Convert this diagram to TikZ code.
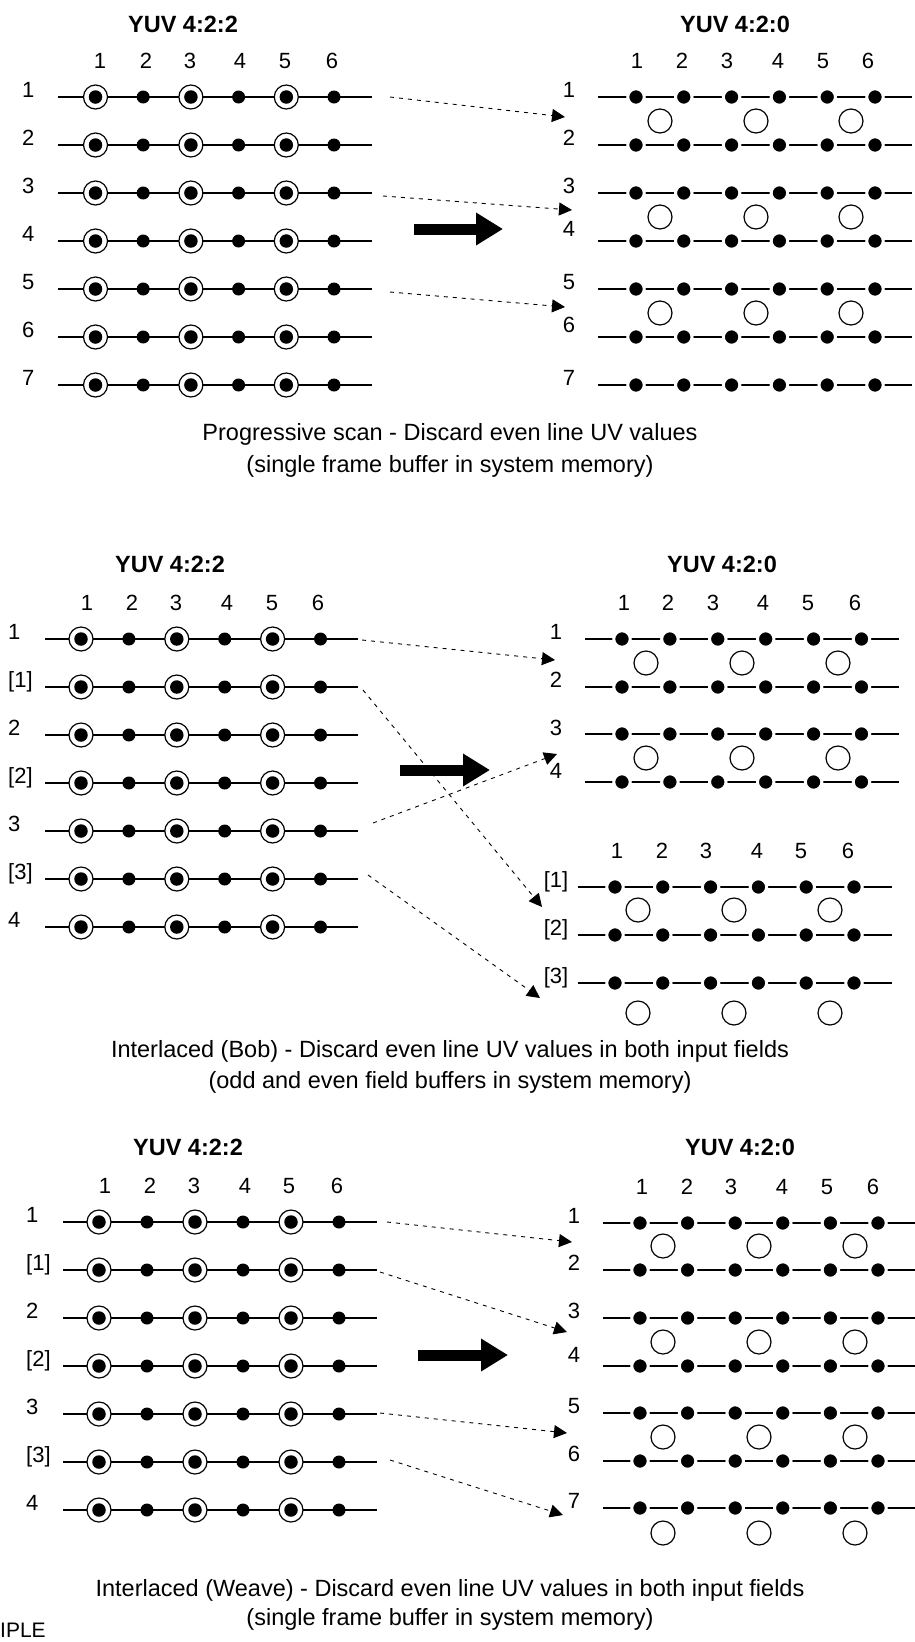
\documentclass[tikz,border=0pt]{standalone}
\usepackage{fontspec}
\setmainfont{Liberation Sans}
\usetikzlibrary{arrows.meta,positioning}

\begin{document}
\begin{tikzpicture}[x=1pt,y=-1pt,
    ring/.style={circle, draw, fill=white, line width=1.2pt, minimum size=24pt, inner sep=0pt},
    ydot/.style={circle, fill=black, minimum size=13.5pt, inner sep=0pt},
    cdot/.style={circle, fill=black, minimum size=13pt, inner sep=0pt},
    gdot/.style={circle, fill=black, draw=white, line width=3pt, minimum size=16.5pt, inner sep=0pt},
    uv/.style={circle, draw, line width=1.2pt, minimum size=24pt, inner sep=0pt},
    rowline/.style={line width=2pt},
    lbl/.style={inner sep=0pt, anchor=base, font=\fontsize{22}{26}\selectfont},
    ttl/.style={inner sep=0pt, anchor=base, font=\bfseries\fontsize{23.5}{28}\selectfont},
    captxt/.style={inner sep=0pt, anchor=base, font=\fontsize{23.5}{28}\selectfont},
    dasharr/.style={-{Triangle[length=13pt,width=13pt]}, line width=0.9pt, dash pattern=on 4pt off 5pt},
    fat/.style={line width=11pt, -{Triangle[length=27pt,width=31pt]}},
]
\fill[white] (0,0) rectangle (915,1642);
\path[use as bounding box] (0,0) rectangle (915,1642);

% progressive scan
\node[ttl] (t1l) at (183,32) {YUV 4:2:2};
\node[ttl] (t1r) at (735,32) {YUV 4:2:0};
\foreach \c/\x in {1/100,2/146,3/190,4/240,5/285,6/332}
  \node[lbl] (c1l\c) at (\x,68) {\c};
\foreach \c/\x in {1/637,2/682,3/727,4/778,5/823,6/868}
  \node[lbl] (c1r\c) at (\x,68) {\c};
\foreach \r [evaluate=\r as \y using 97+48*(\r-1)] in {1,...,7}{
  \node[lbl, anchor=base west] (n1l\r) at (22,\y) {\r};
  \coordinate (a1l\r) at (58,\y);
  \coordinate (b1l\r) at (372,\y);
  \draw[rowline] (a1l\r) -- (b1l\r);
  \foreach \c in {1,3,5}{
    \node[ring] (q1l\r\c) at ({95.5+47.7*(\c-1)},\y) {};
    \node[ydot] (d1l\r\c) at (q1l\r\c) {};
  }
  \foreach \c in {2,4,6}
    \node[cdot] (d1l\r\c) at ({95.5+47.7*(\c-1)},\y) {};
}
\foreach \r/\y/\b in {1/97/97,2/145/145,3/193/193,4/241/236,5/289/289,6/337/332,7/385/385}{
  \node[lbl] (n1r\r) at (569,\b) {\r};
  \coordinate (a1r\r) at (598,\y);
  \coordinate (b1r\r) at (912,\y);
  \draw[rowline] (a1r\r) -- (b1r\r);
  \foreach \c in {1,...,6}
    \node[gdot] (d1r\r\c) at ({636+47.8*(\c-1)},\y) {};
}
\foreach \k/\y in {1/121,2/217,3/313}
  \foreach \c/\x in {1/660,2/756,3/851}
    \node[uv] (u1r\k\c) at (\x,\y) {};
\coordinate (s11) at (390,97);  \coordinate (e11) at (565,117);
\coordinate (s12) at (383,196); \coordinate (e12) at (572,210);
\coordinate (s13) at (390,292); \coordinate (e13) at (565,307);
\draw[dasharr] (s11) -- (e11);
\draw[dasharr] (s12) -- (e12);
\draw[dasharr] (s13) -- (e13);
\coordinate (f1a) at (414,229); \coordinate (f1b) at (503,229);
\draw[fat] (f1a) -- (f1b);
\node[captxt] (cap1a) at (450,440) {Progressive scan - Discard even line UV values};
\node[captxt] (cap1b) at (450,472) {(single frame buffer in system memory)};

% interlaced bob
\node[ttl] (t2l) at (170,572) {YUV 4:2:2};
\node[ttl] (t2r) at (722,572) {YUV 4:2:0};
\foreach \c/\x in {1/87,2/132,3/176,4/227,5/272,6/318}
  \node[lbl] (c2l\c) at (\x,610) {\c};
\foreach \c/\x in {1/624,2/668,3/713,4/763,5/808,6/855}
  \node[lbl] (c2r\c) at (\x,610) {\c};
\foreach \c/\x in {1/617,2/662,3/706,4/757,5/801,6/848}
  \node[lbl] (c2f\c) at (\x,858) {\c};
\foreach \r/\t [evaluate=\r as \y using 639+48*(\r-1)] in {1/1,2/[1],3/2,4/[2],5/3,6/[3],7/4}{
  \node[lbl, anchor=base west] (n2l\r) at (8,\y) {\t};
  \coordinate (a2l\r) at (45,\y);
  \coordinate (b2l\r) at (358,\y);
  \draw[rowline] (a2l\r) -- (b2l\r);
  \foreach \c in {1,3,5}{
    \node[ring] (q2l\r\c) at ({81+47.9*(\c-1)},\y) {};
    \node[ydot] (d2l\r\c) at (q2l\r\c) {};
  }
  \foreach \c in {2,4,6}
    \node[cdot] (d2l\r\c) at ({81+47.9*(\c-1)},\y) {};
}
\foreach \r/\y/\b in {1/639/639,2/687/687,3/734/735,4/782/778}{
  \node[lbl] (n2r\r) at (556,\b) {\r};
  \coordinate (a2r\r) at (585,\y);
  \coordinate (b2r\r) at (899,\y);
  \draw[rowline] (a2r\r) -- (b2r\r);
  \foreach \c in {1,...,6}
    \node[gdot] (d2r\r\c) at ({622+47.9*(\c-1)},\y) {};
}
\foreach \r/\t/\y in {1/[1]/887,2/[2]/935,3/[3]/983}{
  \node[lbl] (n2f\r) at (556,\y) {\t};
  \coordinate (a2f\r) at (578,\y);
  \coordinate (b2f\r) at (892,\y);
  \draw[rowline] (a2f\r) -- (b2f\r);
  \foreach \c in {1,...,6}
    \node[gdot] (d2f\r\c) at ({615+47.8*(\c-1)},\y) {};
}
\foreach \k/\y in {1/663,2/758}
  \foreach \c/\x in {1/646,2/742,3/838}
    \node[uv] (u2r\k\c) at (\x,\y) {};
\foreach \k/\y in {1/910,2/1013}
  \foreach \c/\x in {1/638,2/734,3/830}
    \node[uv] (u2f\k\c) at (\x,\y) {};
\coordinate (s21) at (362,640); \coordinate (e21) at (555,660);
\coordinate (s22) at (363,690); \coordinate (e22) at (542,907);
\coordinate (s23) at (373,823); \coordinate (e23) at (557,754);
\coordinate (s24) at (368,875); \coordinate (e24) at (540,998);
\draw[dasharr] (s21) -- (e21);
\draw[dasharr] (s22) -- (e22);
\draw[dasharr] (s23) -- (e23);
\draw[dasharr] (s24) -- (e24);
\coordinate (f2a) at (400,770); \coordinate (f2b) at (490,770);
\draw[fat] (f2a) -- (f2b);
\node[captxt] (cap2a) at (450,1057) {Interlaced (Bob) - Discard even line UV values in both input fields};
\node[captxt] (cap2b) at (450,1088) {(odd and even field buffers in system memory)};

% interlaced weave
\node[ttl] (t3l) at (188,1155) {YUV 4:2:2};
\node[ttl] (t3r) at (740,1155) {YUV 4:2:0};
\foreach \c/\x in {1/105,2/150,3/194,4/245,5/289,6/337}
  \node[lbl] (c3l\c) at (\x,1193) {\c};
\foreach \c/\x in {1/642,2/687,3/731,4/782,5/827,6/873}
  \node[lbl] (c3r\c) at (\x,1194) {\c};
\foreach \r/\t [evaluate=\r as \y using 1222+48*(\r-1)] in {1/1,2/[1],3/2,4/[2],5/3,6/[3],7/4}{
  \node[lbl, anchor=base west] (n3l\r) at (26,\y) {\t};
  \coordinate (a3l\r) at (63,\y);
  \coordinate (b3l\r) at (377,\y);
  \draw[rowline] (a3l\r) -- (b3l\r);
  \foreach \c in {1,3,5}{
    \node[ring] (q3l\r\c) at ({99+48*(\c-1)},\y) {};
    \node[ydot] (d3l\r\c) at (q3l\r\c) {};
  }
  \foreach \c in {2,4,6}
    \node[cdot] (d3l\r\c) at ({99+48*(\c-1)},\y) {};
}
\foreach \r/\y/\b in {1/1223/1223,2/1270/1270,3/1318/1318,4/1366/1362,5/1413/1413,6/1461/1461,7/1508/1508}{
  \node[lbl] (n3r\r) at (574,\b) {\r};
  \coordinate (a3r\r) at (603,\y);
  \coordinate (b3r\r) at (915,\y);
  \draw[rowline] (a3r\r) -- (b3r\r);
  \foreach \c in {1,...,6}
    \node[gdot] (d3r\r\c) at ({640+47.6*(\c-1)},\y) {};
}
\foreach \k/\y in {1/1246,2/1342,3/1437,4/1533}
  \foreach \c/\x in {1/663,2/759,3/855}
    \node[uv] (u3r\k\c) at (\x,\y) {};
\coordinate (s31) at (387,1222); \coordinate (e31) at (572,1242);
\coordinate (s32) at (380,1272); \coordinate (e32) at (567,1332);
\coordinate (s33) at (380,1413); \coordinate (e33) at (567,1433);
\coordinate (s34) at (390,1460); \coordinate (e34) at (563,1515);
\draw[dasharr] (s31) -- (e31);
\draw[dasharr] (s32) -- (e32);
\draw[dasharr] (s33) -- (e33);
\draw[dasharr] (s34) -- (e34);
\coordinate (f3a) at (418,1355); \coordinate (f3b) at (508,1355);
\draw[fat] (f3a) -- (f3b);
\node[captxt] (cap3a) at (450,1596) {Interlaced (Weave) - Discard even line UV values in both input fields};
\node[captxt] (cap3b) at (450,1625) {(single frame buffer in system memory)};
\node[captxt, anchor=base west, font=\fontsize{21}{25}\selectfont] (mark) at (0,1637) {IPLE};
\end{tikzpicture}
\end{document}
